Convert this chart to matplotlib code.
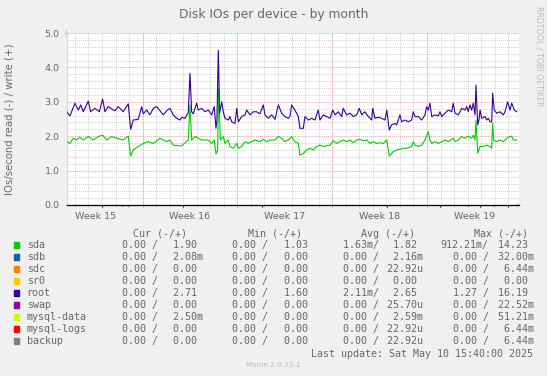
import datetime as dt
import numpy as np
import matplotlib
matplotlib.use("Agg")
import matplotlib.pyplot as plt
import matplotlib.dates as mdates
import matplotlib.ticker as mticker
from matplotlib.patches import Rectangle

W, H = 547, 376

# time axis: days after 2025-04-08 00:00
start = dt.datetime(2025, 4, 8)
view = (0.38, 33.76)

# write IOs/s: (day, value)
root_pts = [
    (0.39, 2.71), (0.64, 2.59), (1.00, 2.96), (1.25, 2.76), (1.43, 2.91), (1.62, 2.71),
    (1.99, 3.02), (2.16, 2.71), (2.48, 2.81), (2.80, 2.71), (3.05, 3.08), (3.22, 2.71),
    (3.46, 2.86), (3.72, 2.79), (3.96, 2.74), (4.20, 2.86), (4.57, 2.71), (4.94, 2.94),
    (5.12, 2.20), (5.31, 2.47), (5.68, 2.49), (5.93, 2.86), (6.05, 2.65), (6.30, 2.76),
    (6.54, 2.62), (6.79, 2.81), (7.04, 2.86), (7.28, 2.74), (7.53, 2.62), (7.78, 2.74),
    (8.02, 2.81), (8.26, 2.62), (8.52, 2.52), (8.76, 2.47), (8.89, 2.55), (9.13, 2.52),
    (9.37, 2.68), (9.50, 3.83), (9.62, 2.71), (9.74, 2.65), (9.99, 2.96), (10.11, 2.76),
    (10.36, 2.81), (10.61, 2.71), (10.85, 2.76), (11.10, 2.62), (11.29, 2.86), (11.42, 2.23),
    (11.49, 2.47), (11.59, 4.50), (11.69, 2.67), (11.84, 3.00), (11.96, 2.71), (12.08, 2.52),
    (12.33, 2.47), (12.45, 2.57), (12.58, 2.42), (12.82, 2.37), (12.95, 2.81), (13.07, 2.42),
    (13.32, 2.57), (13.56, 2.62), (13.69, 2.76), (13.93, 2.62), (14.17, 2.71), (14.42, 2.71),
    (14.67, 2.65), (14.91, 2.91), (15.04, 2.62), (15.28, 2.52), (15.53, 2.62), (15.78, 2.49),
    (16.02, 2.91), (16.27, 2.67), (16.51, 2.57), (16.76, 2.52), (16.88, 2.57), (17.01, 2.91),
    (17.25, 2.76), (17.50, 2.57), (17.62, 2.23), (17.87, 2.23), (17.99, 2.57), (18.24, 2.47),
    (18.49, 2.52), (18.73, 2.47), (18.97, 2.76), (19.10, 2.47), (19.34, 2.62), (19.59, 2.57),
    (19.84, 2.52), (20.04, 2.76), (20.21, 2.62), (20.45, 2.71), (20.70, 2.57), (20.82, 2.81),
    (21.07, 2.62), (21.32, 2.67), (21.56, 2.57), (21.81, 2.62), (22.00, 2.81), (22.18, 2.62),
    (22.42, 2.71), (22.67, 2.57), (22.92, 2.47), (22.99, 2.81), (23.16, 2.52), (23.41, 2.55),
    (23.66, 2.52), (23.90, 2.47), (24.03, 2.76), (24.22, 2.18), (24.39, 2.33), (24.64, 2.37),
    (24.76, 2.33), (25.01, 2.62), (25.13, 2.42), (25.38, 2.47), (25.62, 2.42), (25.87, 2.47),
    (25.99, 2.71), (26.12, 2.57), (26.36, 2.57), (26.61, 2.47), (26.85, 2.62), (26.98, 2.86),
    (27.10, 2.76), (27.22, 2.96), (27.35, 2.57), (27.59, 2.62), (27.84, 2.59), (27.96, 2.71),
    (28.09, 2.57), (28.33, 2.67), (28.58, 2.76), (28.83, 2.71), (28.94, 2.96), (29.07, 2.67),
    (29.31, 2.62), (29.57, 2.81), (29.81, 2.76), (29.93, 2.86), (30.05, 2.71), (30.18, 2.91),
    (30.30, 2.76), (30.42, 2.96), (30.55, 2.62), (30.62, 3.49), (30.75, 2.33), (30.84, 2.47),
    (30.92, 2.76), (31.04, 2.52), (31.29, 2.57), (31.41, 2.47), (31.53, 2.52), (31.66, 2.42),
    (31.78, 2.42), (31.85, 3.25), (31.97, 2.76), (32.15, 2.67), (32.39, 2.71), (32.64, 2.62),
    (32.76, 2.71), (32.96, 3.00), (33.13, 2.76), (33.26, 2.96), (33.45, 2.76), (33.63, 2.71),
]

sda_pts = [
    (0.39, 1.84), (0.64, 1.79), (0.88, 1.94), (1.13, 1.89), (1.37, 1.97), (1.62, 1.89),
    (1.99, 1.99), (2.36, 1.89), (2.73, 1.99), (3.05, 2.03), (3.35, 1.89), (3.72, 1.99),
    (4.08, 1.94), (4.57, 1.89), (4.94, 2.00), (5.12, 1.42), (5.31, 1.60), (5.68, 1.70),
    (6.05, 1.79), (6.42, 1.84), (6.79, 1.79), (7.28, 1.94), (7.78, 1.84), (8.02, 1.89),
    (8.26, 1.74), (8.76, 1.72), (8.89, 1.72), (9.37, 1.89), (9.50, 2.91), (9.62, 1.89),
    (9.87, 1.99), (10.11, 1.94), (10.36, 1.89), (10.85, 1.89), (11.10, 1.79), (11.29, 1.89),
    (11.42, 1.48), (11.54, 1.60), (11.62, 3.39), (11.74, 1.89), (11.96, 1.99), (12.08, 1.79),
    (12.33, 1.89), (12.45, 1.70), (12.70, 1.65), (12.95, 1.79), (13.07, 1.65), (13.32, 1.70),
    (13.56, 1.84), (13.80, 1.79), (14.05, 1.84), (14.30, 1.89), (14.67, 1.84), (14.91, 1.91),
    (15.16, 1.84), (15.41, 1.89), (15.78, 1.89), (16.02, 1.99), (16.27, 1.94), (16.51, 1.84),
    (16.76, 1.89), (17.01, 1.99), (17.25, 1.84), (17.50, 1.79), (17.62, 1.45), (17.87, 1.50),
    (18.12, 1.60), (18.36, 1.65), (18.60, 1.60), (18.86, 1.70), (19.10, 1.74), (19.34, 1.70),
    (19.59, 1.72), (19.84, 1.74), (20.08, 1.87), (20.33, 1.79), (20.58, 1.84), (20.82, 1.89),
    (21.07, 1.84), (21.32, 1.89), (21.56, 1.81), (21.81, 1.89), (22.05, 1.91), (22.30, 1.87),
    (22.55, 1.89), (22.79, 1.79), (23.04, 1.84), (23.29, 1.79), (23.53, 1.81), (23.77, 1.79),
    (24.03, 1.89), (24.22, 1.42), (24.51, 1.55), (24.76, 1.60), (25.01, 1.62), (25.25, 1.65),
    (25.50, 1.65), (25.87, 1.70), (25.99, 1.84), (26.12, 1.74), (26.36, 1.70), (26.61, 1.74),
    (26.85, 1.89), (27.10, 2.13), (27.22, 1.89), (27.35, 1.79), (27.59, 1.84), (27.84, 1.79),
    (28.09, 1.84), (28.33, 1.89), (28.58, 1.84), (28.94, 1.94), (29.07, 1.84), (29.31, 1.89),
    (29.57, 1.99), (29.81, 1.94), (30.05, 2.00), (30.30, 1.94), (30.42, 2.03), (30.55, 1.89),
    (30.62, 2.47), (30.75, 1.51), (30.92, 1.70), (31.16, 1.70), (31.41, 1.74), (31.66, 1.70),
    (31.78, 1.65), (31.85, 2.38), (31.93, 1.89), (32.15, 1.84), (32.39, 1.89), (32.64, 1.84),
    (32.89, 1.94), (33.13, 1.99), (33.26, 2.00), (33.38, 1.89), (33.63, 1.89),
]

# small read spikes of root (drawn negative)
root_read_dips = [(3.02, 0.05), (4.45, 0.04), (4.94, 0.04), (9.00, 0.05), (14.82, 0.05),
                  (24.03, 0.05), (27.96, 0.05), (30.05, 0.04), (30.92, 0.05), (31.88, 0.04),
                  (33.01, 0.05)]

devices = ['sda', 'sdb', 'sdc', 'sr0', 'root', 'swap', 'mysql-data', 'mysql-logs', 'backup']
colors = ['#00CC00', '#0066B3', '#FF8000', '#FFCC00', '#330099', '#990099', '#CCFF00', '#FF0000', '#808080']
cur_read = [0, 0, 0, 0, 0, 0, 0, 0, 0]
cur_write = [1.90, 2.08e-3, 0, 0, 2.71, 0, 2.50e-3, 0, 0]
min_read = [0, 0, 0, 0, 0, 0, 0, 0, 0]
min_write = [1.03, 0, 0, 0, 1.60, 0, 0, 0, 0]
avg_read = [1.63e-3, 0, 0, 0, 2.11e-3, 0, 0, 0, 0]
avg_write = [1.82, 2.16e-3, 22.92e-6, 0, 2.65, 25.70e-6, 2.59e-3, 22.92e-6, 22.92e-6]
max_read = [912.21e-3, 0, 0, 0, 1.27, 0, 0, 0, 0]
max_write = [14.23, 32.00e-3, 6.44e-3, 0, 16.19, 22.52e-3, 51.21e-3, 6.44e-3, 6.44e-3]
headers = ['Cur (-/+)', 'Min (-/+)', 'Avg (-/+)', 'Max (-/+)']

title = 'Disk IOs per device - by month'
ylabel = 'IOs/second read (-) / write (+)'
last_update = 'Last update: Sat May 10 15:40:00 2025'

FONT = '#666666'
AXIS = '#CFD6F8'
MONO = 'DejaVu Sans Mono'


def si(v):
    if v == 0:
        return '%6.2f ' % 0
    for scale, p in ((1, ' '), (1e-3, 'm'), (1e-6, 'u')):
        if abs(v) >= scale:
            return '%6.2f%s' % (v / scale, p)
    return '%6.2f ' % v


def ftext(x, y, s, **kw):
    # place text in figure pixels, y measured from the top
    kw.setdefault('color', FONT)
    fig.text(x / W, 1 - y / H, s, **kw)


fig = plt.figure(figsize=(W / 100, H / 100), dpi=100, facecolor='#F0F0F0')
ax = fig.add_axes([66.5 / W, 1 - 205 / H, 452 / W, 172 / H])
ax.set_facecolor('white')

base = mdates.date2num(start)
sda = np.array(sda_pts)
root = np.array(root_pts)
dips = np.array(root_read_dips)

ax.plot(base + sda[:, 0], sda[:, 1], color='#00CC00', lw=0.8, zorder=3)
ax.plot(base + root[:, 0], root[:, 1], color='#330099', lw=0.8, zorder=4)
ax.vlines(base + dips[:, 0], -dips[:, 1], 0, color='#330099', lw=0.8, clip_on=False, zorder=4)
ax.axhline(0, color='black', lw=0.9, zorder=5, clip_on=False)

ax.set_xlim(base + view[0], base + view[1])
ax.set_ylim(0, 5)

ax.yaxis.set_major_locator(mticker.MultipleLocator(1))
ax.yaxis.set_minor_locator(mticker.MultipleLocator(0.2))
ax.yaxis.set_major_formatter(mticker.FormatStrFormatter('%.1f'))
ax.xaxis.set_minor_locator(mdates.DayLocator())
week_mid = [base + 2.5 + 7 * k for k in range(5)]
ax.xaxis.set_major_locator(mticker.FixedLocator(week_mid))
ax.xaxis.set_major_formatter(mdates.DateFormatter('Week %V'))

dots = (0, (1, 1))
ax.set_axisbelow(True)
ax.grid(which='minor', color='#D0D0D0', lw=0.7, ls=dots)
ax.grid(which='major', axis='y', color='#F0A0A0', lw=0.7, ls=dots)
x0, x1 = ax.get_xlim()
mon_loc = mdates.WeekdayLocator(byweekday=mdates.MO)
mondays = [m for m in mon_loc.tick_values(mdates.num2date(x0), mdates.num2date(x1)) if x0 < m < x1]
ax.vlines(mondays, -0.06, 5, color='#F0A0A0', lw=0.7, ls=dots, zorder=1, clip_on=False)

ax.tick_params(which='major', length=0, colors=FONT, labelsize=6.8)
ax.tick_params(which='minor', length=2, width=0.7, color='#D0D0D0', direction='out')
ax.tick_params(axis='y', which='minor', length=0)
ax.tick_params(axis='y', pad=5)
ax.tick_params(axis='x', pad=5)
for s in ('top', 'right'):
    ax.spines[s].set_visible(False)
for s in ('left', 'bottom'):
    ax.spines[s].set_color(AXIS)
    ax.spines[s].set_linewidth(0.8)
ax.annotate('', xy=(0, 1.035), xytext=(0, 0.99), xycoords='axes fraction',
            arrowprops=dict(arrowstyle='-|>', color=AXIS, lw=0.8, mutation_scale=6))
ax.annotate('', xy=(1.012, 0), xytext=(0.99, 0), xycoords='axes fraction',
            arrowprops=dict(arrowstyle='-|>', color=AXIS, lw=0.8, mutation_scale=6))

ftext(273.5, 18.3, title, ha='center', va='baseline', fontsize=8.8)
ftext(10, 119, ylabel, rotation=90, ha='center', va='center', fontsize=7.3)
ftext(538.5, 6, 'RRDTOOL / TOBI OETIKER', rotation=270, ha='center', va='top',
      fontsize=5.7, color='#BBBBBB')

# legend
header_x = [133, 247.7, 360.7, 474]
read_x = [109.7, 219.7, 330.7, 440.7]
write_x = [160.7, 272, 381.3, 492]
for hx, h in zip(header_x, headers):
    ftext(hx, 236.7, h, family=MONO, fontsize=7.2, va='baseline')

for i, name in enumerate(devices):
    yb = 248.3 + 12 * i
    fig.patches.append(Rectangle((14 / W, 1 - (yb - 0.7) / H), 5.3 / W, 5.3 / H,
                                 transform=fig.transFigure, color=colors[i]))
    ftext(26.7, yb, name, family=MONO, fontsize=7.2, va='baseline')
    pairs = [(cur_read, cur_write), (min_read, min_write),
             (avg_read, avg_write), (max_read, max_write)]
    for k, (rd, wr) in enumerate(pairs):
        ftext(read_x[k], yb, si(rd[i]) + '/', family=MONO, fontsize=7.2, va='baseline')
        ftext(write_x[k], yb, si(wr[i]), family=MONO, fontsize=7.2, va='baseline')

ftext(311.2, 357.3, last_update, family=MONO, fontsize=7.2, va='baseline')
ftext(273.5, 367.3, 'Munin 2.0.33-1', ha='center', va='baseline', fontsize=5.2, color='#BBBBBB')

fig.savefig('out.png', dpi=100, facecolor=fig.get_facecolor())
